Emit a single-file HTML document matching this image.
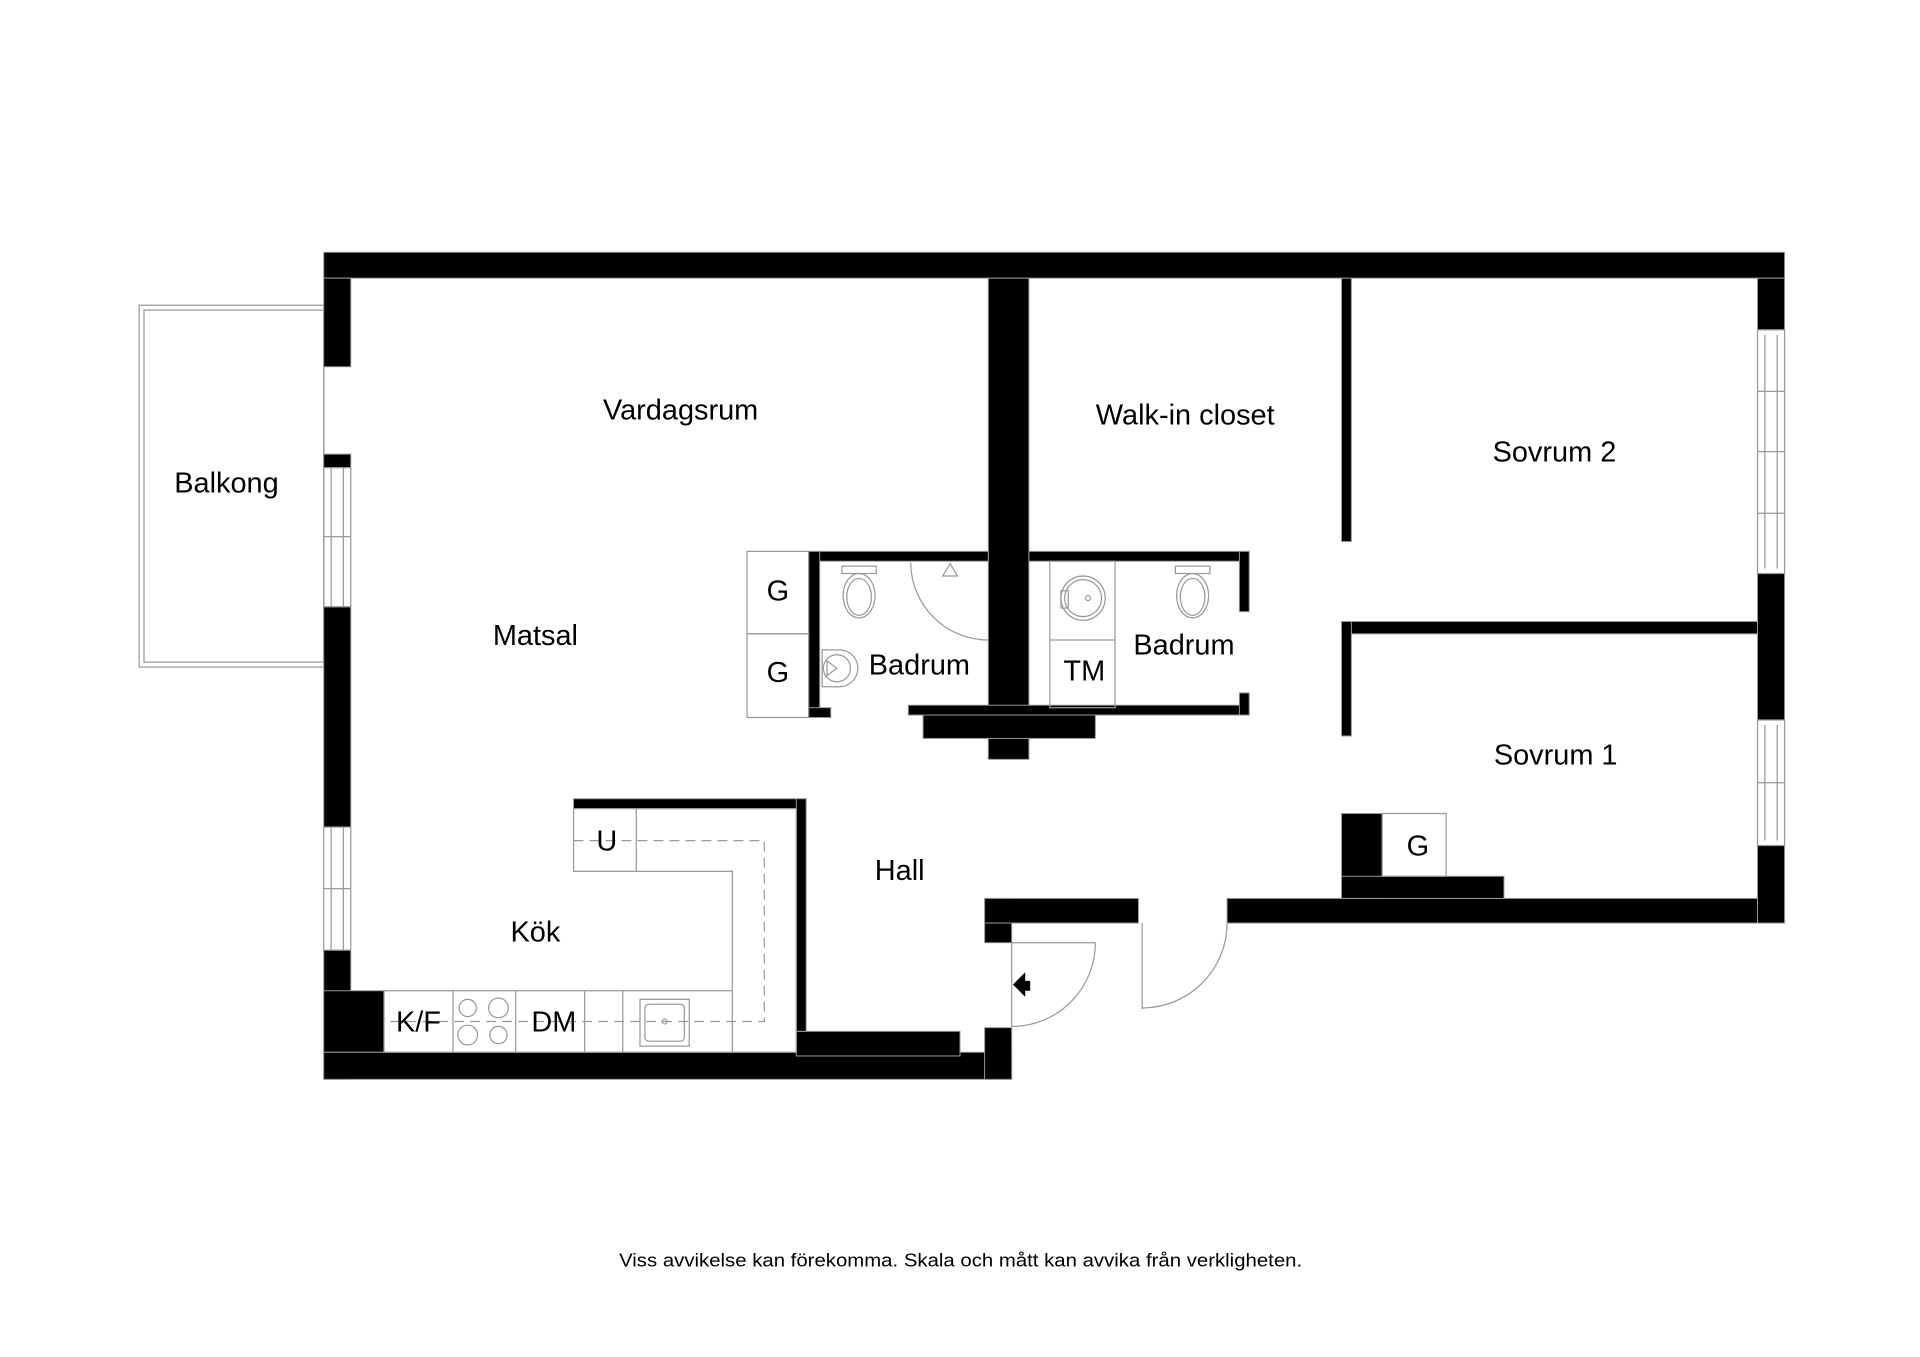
<!DOCTYPE html>
<html><head><meta charset="utf-8"><style>
html,body{margin:0;padding:0;background:#fff;width:1920px;height:1357px;overflow:hidden}
svg{display:block}
text{font-family:"Liberation Sans",sans-serif;fill:#000}
</style></head><body>
<svg width="1920" height="1357" viewBox="0 0 1560 1102.6" xmlns="http://www.w3.org/2000/svg">
<rect width="1560" height="1103" fill="#fff"/>
<rect x="113" y="248" width="150" height="294" fill="none" stroke="#999" stroke-width="1"/>
<rect x="117" y="252" width="146" height="286" fill="none" stroke="#999" stroke-width="1"/>
<g fill="#000" stroke="#999" stroke-width="0.8">
<rect x="263" y="205" width="1187" height="21"/>
<rect x="263" y="226" width="22" height="72"/>
<rect x="263" y="369" width="22" height="11"/>
<rect x="263" y="493" width="22" height="179"/>
<rect x="263" y="772" width="22" height="105"/>
<rect x="263" y="805" width="49" height="50"/>
<rect x="263" y="855" width="559" height="22"/>
<rect x="647" y="838" width="133" height="20"/>
<rect x="800" y="835" width="22" height="42"/>
<rect x="800" y="730" width="22" height="36"/>
<rect x="800" y="730" width="125" height="20"/>
<rect x="997" y="730" width="453" height="20"/>
<rect x="466" y="649" width="189" height="8"/>
<rect x="647" y="649" width="8" height="189"/>
<rect x="1428" y="226" width="22" height="42"/>
<rect x="1428" y="466" width="22" height="119"/>
<rect x="1428" y="687" width="22" height="63"/>
<rect x="1090" y="226" width="8" height="214"/>
<rect x="1090" y="505" width="338" height="10"/>
<rect x="1090" y="505" width="8" height="93"/>
<rect x="1090" y="661" width="33" height="69"/>
<rect x="1090" y="712" width="132" height="18"/>
<rect x="803" y="226" width="33" height="391"/>
<rect x="750" y="579" width="140" height="21"/>
<rect x="657" y="448" width="146" height="8"/>
<rect x="657" y="448" width="9" height="135"/>
<rect x="657" y="575" width="18" height="8"/>
<rect x="738" y="573" width="277" height="8"/>
<rect x="836" y="448" width="179" height="8"/>
<rect x="1007" y="448" width="8" height="49"/>
<rect x="1007" y="563" width="8" height="18"/>
</g>
<g fill="none" stroke="#999" stroke-width="1">
<rect x="263" y="380" width="22" height="113"/><line x1="269" y1="380" x2="269" y2="493"/><line x1="279" y1="380" x2="279" y2="493"/><line x1="263" y1="436" x2="285" y2="436"/>
<rect x="263" y="672" width="22" height="100"/><line x1="269" y1="672" x2="269" y2="772"/><line x1="279" y1="672" x2="279" y2="772"/><line x1="263" y1="722" x2="285" y2="722"/>
<line x1="263" y1="298" x2="263" y2="369"/>
<rect x="1428" y="268" width="22" height="198"/><line x1="1434" y1="272" x2="1434" y2="462"/><line x1="1444" y1="272" x2="1444" y2="462"/><line x1="1428" y1="318" x2="1450" y2="318"/><line x1="1428" y1="367" x2="1450" y2="367"/><line x1="1428" y1="417" x2="1450" y2="417"/>
<rect x="1428" y="585" width="22" height="102"/><line x1="1434" y1="589" x2="1434" y2="683"/><line x1="1444" y1="589" x2="1444" y2="683"/><line x1="1428" y1="636" x2="1450" y2="636"/>
<rect x="607" y="448" width="50" height="67"/><rect x="607" y="515" width="50" height="68"/>
<rect x="1123" y="661" width="52" height="51"/>
<rect x="853" y="456" width="53" height="119"/><line x1="853" y1="520" x2="906" y2="520"/>
<rect x="466" y="657" width="51" height="51"/>
<polyline points="517,657 647,657 647,855 312,855 312,805 595,805 595,708 517,708"/>
<line x1="368" y1="805" x2="368" y2="855"/><line x1="419" y1="805" x2="419" y2="855"/><line x1="475" y1="805" x2="475" y2="855"/><line x1="506" y1="805" x2="506" y2="855"/><line x1="595" y1="805" x2="595" y2="855"/>
<polyline points="466,683 621,683 621,830 312,830" stroke-dasharray="8,5"/>
<rect x="520" y="812" width="40" height="38"/><rect x="524" y="816" width="32" height="30" rx="3"/><circle cx="540" cy="830" r="2"/>
<circle cx="380" cy="819" r="7"/><circle cx="405" cy="819" r="8"/><circle cx="380" cy="841" r="8"/><circle cx="405" cy="841" r="7"/>
<line x1="822" y1="766" x2="890" y2="766"/><path d="M890,766 A68,68 0 0,1 822,834"/><line x1="822" y1="766" x2="822" y2="834"/>
<line x1="928" y1="750" x2="928" y2="820"/><path d="M997,750 A69,69 0 0,1 928,819"/>
<path d="M740,457 A63,63 0 0,0 803,520"/>
<rect x="684" y="460" width="28" height="6"/><ellipse cx="698" cy="484" rx="13" ry="18"/><ellipse cx="698" cy="485" rx="10" ry="15"/>
<rect x="955" y="460" width="28" height="6"/><ellipse cx="969" cy="484" rx="13" ry="18"/><ellipse cx="969" cy="485" rx="10" ry="15"/>
<circle cx="880" cy="486" r="18"/><circle cx="880" cy="486" r="15"/><rect x="862" y="480" width="6" height="14"/><circle cx="884" cy="486" r="2"/>
<path d="M668,528 L682,528 A15,15 0 0,1 682,558 L668,558 Z"/><circle cx="680" cy="543" r="11"/><polygon points="672,537 672,549 680,543"/>
<polygon points="766,468 778,468 772,458"/>
</g>
<polygon points="823,800 833,790 833,810" fill="#000"/><rect x="832" y="797" width="5" height="8" fill="#000"/>
<g font-size="23.5" text-anchor="middle">
<text x="184" y="400">Balkong</text>
<text x="553" y="341">Vardagsrum</text>
<text x="963" y="345">Walk-in closet</text>
<text x="1263" y="375">Sovrum 2</text>
<text x="435" y="524">Matsal</text>
<text x="747" y="548">Badrum</text>
<text x="962" y="532">Badrum</text>
<text x="1264" y="621">Sovrum 1</text>
<text x="731" y="715">Hall</text>
<text x="435" y="765">Kök</text>
<text x="632" y="488">G</text>
<text x="632" y="554">G</text>
<text x="881" y="553">TM</text>
<text x="1152" y="695">G</text>
<text x="493" y="691">U</text>
<text x="340" y="838">K/F</text>
<text x="450" y="838">DM</text>
</g>
<text x="503" y="1029" font-size="15" textLength="555" lengthAdjust="spacingAndGlyphs">Viss avvikelse kan förekomma. Skala och mått kan avvika från verkligheten.</text>
</svg>
</body></html>
